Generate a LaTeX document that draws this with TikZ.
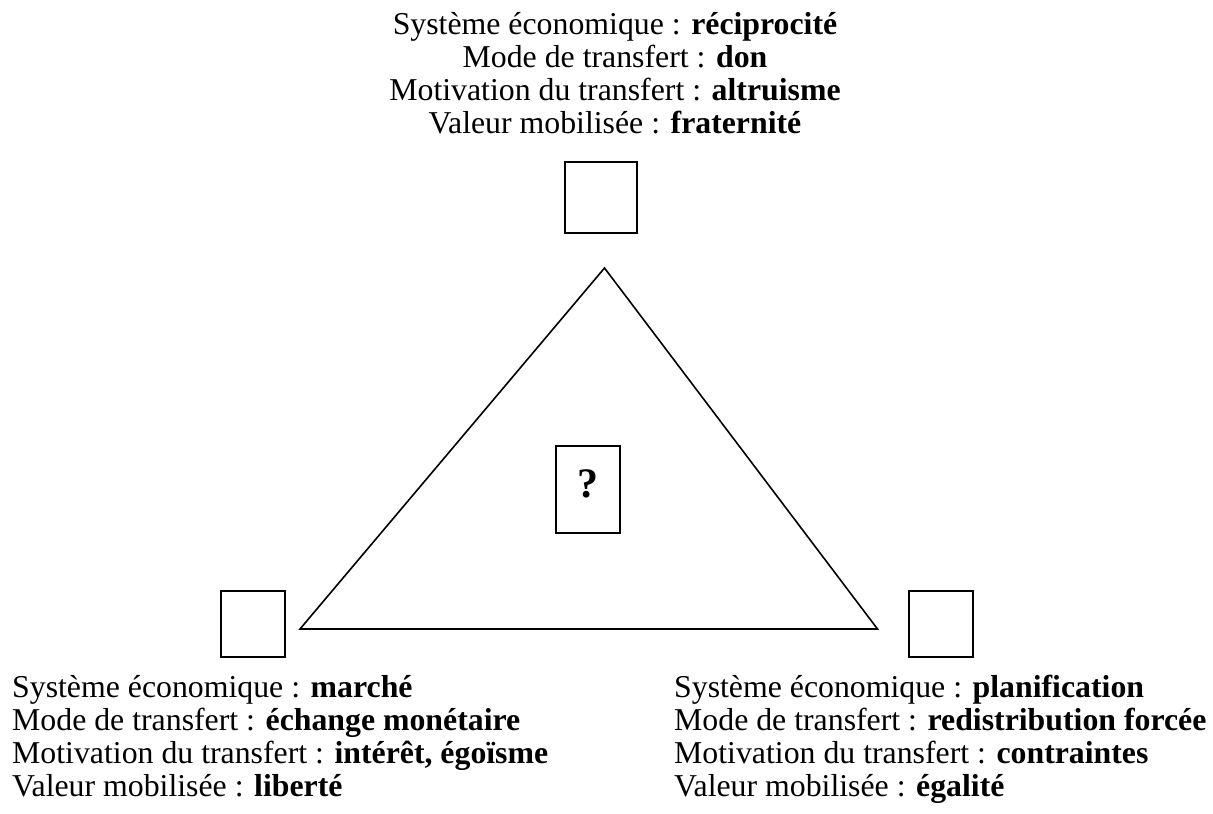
\documentclass[tikz,border=0pt]{standalone}
\usepackage{fontspec}
\setmainfont{Liberation Serif}
\begin{document}
\begin{tikzpicture}[x=1pt,y=-1pt,
  txt/.style={inner sep=0pt,font=\fontsize{31.8}{33}\selectfont},
  sq/.style={draw,line width=2pt,inner sep=0pt},
  tri/.style={line width=1.6pt,line join=miter}]
\useasboundingbox (0,0) rectangle (1213,814);
% top text
\node[txt,align=center,anchor=north] (ttop) at (615,12)
  {Système économique : \textbf{réciprocité}\\
   Mode de transfert : \textbf{don}\\
   Motivation du transfert : \textbf{altruisme}\\
   Valeur mobilisée : \textbf{fraternité}};
% bottom left text
\node[txt,align=left,anchor=north west] (tbl) at (12,675)
  {Système économique : \textbf{marché}\\
   Mode de transfert : \textbf{échange monétaire}\\
   Motivation du transfert : \textbf{intérêt, égoïsme}\\
   Valeur mobilisée : \textbf{liberté}};
% bottom right text
\node[txt,align=left,anchor=north west] (tbr) at (674,675)
  {Système économique : \textbf{planification}\\
   Mode de transfert : \textbf{redistribution forcée}\\
   Motivation du transfert : \textbf{contraintes}\\
   Valeur mobilisée : \textbf{égalité}};
% squares
\node[sq,minimum width=72pt,minimum height=71pt] (stop) at (601,197.5) {};
\node[sq,minimum width=64pt,minimum height=66pt] (sbl) at (253,624) {};
\node[sq,minimum width=64pt,minimum height=66pt] (sbr) at (941,624) {};
% triangle
\coordinate (apex) at (604.5,268);
\coordinate (bl) at (300,629);
\coordinate (br) at (877.5,629);
\draw[tri] (apex) -- (bl) -- (br) -- cycle;
% centre box
\node[draw,line width=2pt,inner sep=0pt,minimum width=64pt,
  text height=51pt,text depth=36pt,anchor=base,
  font=\fontsize{42}{44}\selectfont\bfseries]
  (q) at (588,497) {?};
\end{tikzpicture}
\end{document}
